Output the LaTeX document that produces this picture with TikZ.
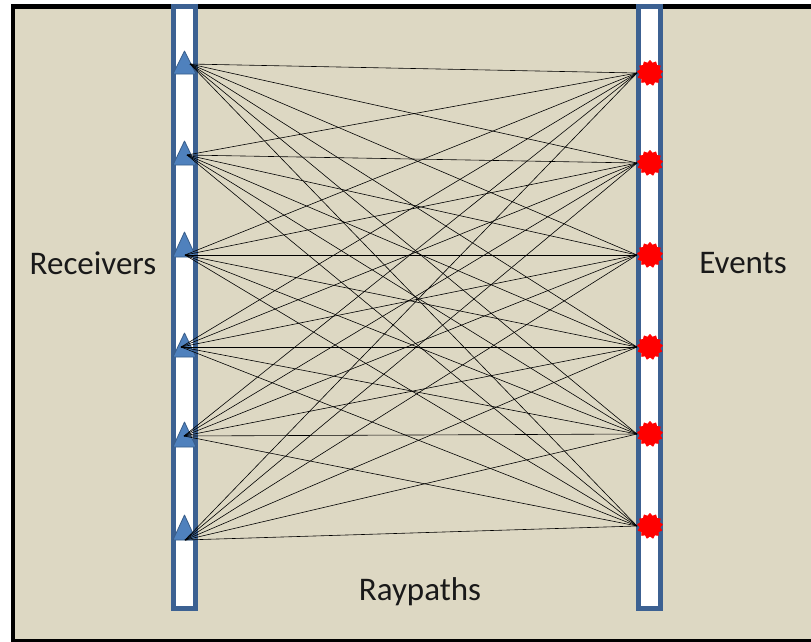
\documentclass[tikz,border=0pt]{standalone}
\usepackage{fontspec}
\setmainfont{Carlito}
\usetikzlibrary{shapes.geometric}
\definecolor{panel}{HTML}{DDD8C3}
\definecolor{barblue}{HTML}{3C6192}
\definecolor{trifill}{HTML}{4F81BD}
\definecolor{triedge}{HTML}{385D8A}
\tikzset{
  frame/.style={draw=black, line width=4.5pt, fill=panel},
  borehole/.style={draw=barblue, line width=5pt, fill=white},
  receiver/.style={fill=trifill, draw=triedge, line width=0.8pt, line join=round},
  event/.style={star, star points=13, star point ratio=1.25, minimum size=25pt,
                inner sep=0pt, fill=red, draw=red, line width=0.8pt, line join=round},
  ray/.style={draw=black, line width=0.6pt},
  label/.style={font=\fontsize{33}{36}\selectfont, text=black!90}
}
\begin{document}
\begin{tikzpicture}[x=1pt, y=-1pt]
  \useasboundingbox[fill=white] (0,0) rectangle (811,641);
  % panel with its black border (right side runs off the page)
  \path[frame] (13,6.5) rectangle (830,641.5);
  % two boreholes
  \path[borehole] (173.5,6.5) rectangle (195.5,608);
  \path[borehole] (638.5,6.5) rectangle (660.5,608);
  % receivers: triangle apex y, base y, and where rays leave
  \foreach \i/\ya/\yb/\ox/\oy in {1/51/74/190/64, 2/141/165/187/155, 3/232/257/185/255,
                                  4/333/357/181/347, 5/422/447/184/436, 6/515/540/185/540} {
    \draw[receiver] (173,\yb) -- (184.5,\ya) -- (196,\yb) -- cycle;
    \coordinate (r\i) at (\ox,\oy);
  }
  % events on the right borehole
  \foreach \j/\y in {1/73, 2/163, 3/255, 4/347, 5/434, 6/526} {
    \node[event] (e\j) at (650,\y) {};
    \coordinate (t\j) at (637,\y);
  }
  % every receiver to every event
  \foreach \i in {1,...,6} {
    \foreach \j in {1,...,6} {
      \draw[ray] (r\i) -- (t\j);
    }
  }
  \node[label] (lrec) at (93,263) {Receivers};
  \node[label] (lev) at (743,263) {Events};
  \node[label] (lray) at (420,592) {Raypaths};
\end{tikzpicture}
\end{document}
